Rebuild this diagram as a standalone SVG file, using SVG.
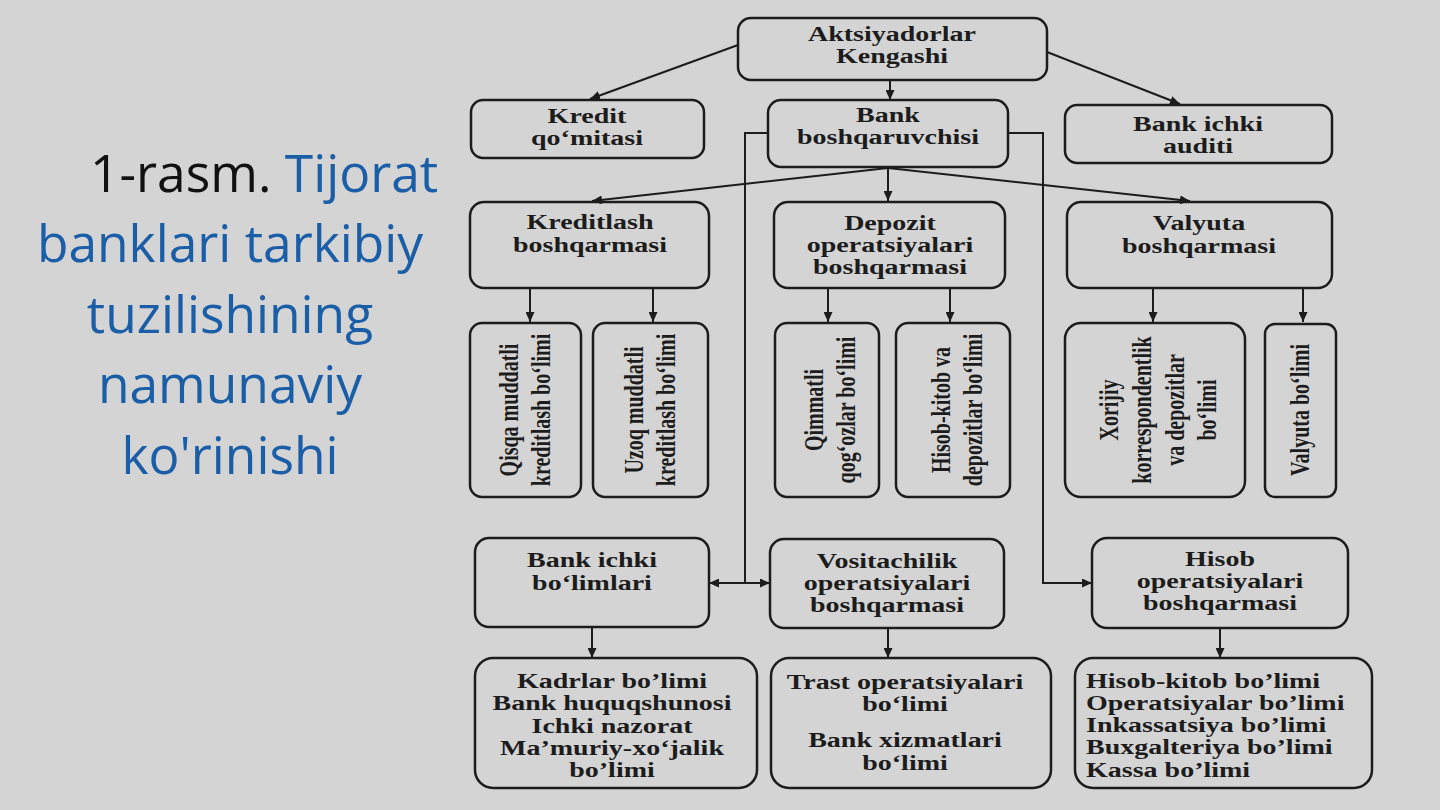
<svg xmlns="http://www.w3.org/2000/svg" width="1440" height="810" viewBox="0 0 1440 810">
<style>
.box{fill:none;stroke:#1c1c1c;stroke-width:2.5}
.c{fill:none;stroke:#1c1c1c;stroke-width:2}
.t{font-family:"Liberation Serif","Times New Roman",serif;font-weight:bold;font-size:20px;fill:#1c1c1c;text-anchor:middle}
.ts{font-family:"Liberation Serif","Times New Roman",serif;font-weight:bold;font-size:20px;fill:#1c1c1c;text-anchor:start}
.v{font-family:"Liberation Serif","Times New Roman",serif;font-weight:bold;font-size:20px;fill:#1c1c1c;text-anchor:middle}
.title{font-family:"Open Sans","Noto Sans",sans-serif;font-size:51.5px;fill:#1b5ea8}
</style>
<defs>
<marker id="ah" markerUnits="userSpaceOnUse" markerWidth="10" markerHeight="9" refX="10" refY="4.5" orient="auto">
<path d="M0,0 L10,4.5 L0,9 z" fill="#1c1c1c"/>
</marker>
</defs>
<rect x="0" y="0" width="1440" height="810" fill="#d4d4d4"/>

<g id="title">
<text class="title" x="90" y="192"><tspan fill="#111111">1-rasm. </tspan>Tijorat</text>
<text class="title" text-anchor="middle" x="230" y="262">banklari tarkibiy</text>
<text class="title" text-anchor="middle" x="230" y="333">tuzilishining</text>
<text class="title" text-anchor="middle" x="230" y="403">namunaviy</text>
<text class="title" text-anchor="middle" x="230" y="474">ko'rinishi</text>
</g>

<g id="connectors">
<line class="c" x1="738" y1="45" x2="590" y2="99" marker-end="url(#ah)"/>
<line class="c" x1="890" y1="80" x2="890" y2="100" marker-end="url(#ah)"/>
<line class="c" x1="1047" y1="52" x2="1180" y2="104" marker-end="url(#ah)"/>
<line class="c" x1="888" y1="168" x2="592" y2="201" marker-end="url(#ah)"/>
<line class="c" x1="888" y1="168" x2="888" y2="201" marker-end="url(#ah)"/>
<line class="c" x1="888" y1="168" x2="1190" y2="201" marker-end="url(#ah)"/>
<line class="c" x1="530" y1="289" x2="530" y2="322" marker-end="url(#ah)"/>
<line class="c" x1="653" y1="289" x2="653" y2="322" marker-end="url(#ah)"/>
<line class="c" x1="828" y1="289" x2="828" y2="322" marker-end="url(#ah)"/>
<line class="c" x1="950" y1="289" x2="950" y2="322" marker-end="url(#ah)"/>
<line class="c" x1="1153" y1="289" x2="1153" y2="322" marker-end="url(#ah)"/>
<line class="c" x1="1303" y1="289" x2="1303" y2="322" marker-end="url(#ah)"/>
<polyline class="c" points="768,133 745,133 745,583"/>
<line class="c" x1="745" y1="583" x2="709" y2="583" marker-end="url(#ah)"/>
<line class="c" x1="745" y1="583" x2="770" y2="583" marker-end="url(#ah)"/>
<polyline class="c" points="1008,133 1043,133 1043,583 1092,583" marker-end="url(#ah)"/>
<line class="c" x1="592" y1="627" x2="592" y2="658" marker-end="url(#ah)"/>
<line class="c" x1="888" y1="628" x2="888" y2="658" marker-end="url(#ah)"/>
<line class="c" x1="1220" y1="628" x2="1220" y2="658" marker-end="url(#ah)"/>
</g>

<g id="aktsiyadorlar">
<rect class="box" x="738" y="18" width="309" height="62" rx="13"/>
<text class="t" transform="translate(892,0) scale(1.4,1)"><tspan x="0" y="41">Aktsiyadorlar</tspan><tspan x="0" y="63">Kengashi</tspan></text>
</g>
<g id="kredit-qomitasi">
<rect class="box" x="471" y="100" width="233" height="58" rx="12"/>
<text class="t" transform="translate(587,0) scale(1.4,1)"><tspan x="0" y="123">Kredit</tspan><tspan x="0" y="145">qo‘mitasi</tspan></text>
</g>
<g id="bank-boshqaruvchisi">
<rect class="box" x="768" y="100" width="240" height="67" rx="13"/>
<text class="t" transform="translate(888,0) scale(1.4,1)"><tspan x="0" y="122">Bank</tspan><tspan x="0" y="144">boshqaruvchisi</tspan></text>
</g>
<g id="bank-ichki-auditi">
<rect class="box" x="1065" y="105" width="267" height="58" rx="12"/>
<text class="t" transform="translate(1198,0) scale(1.4,1)"><tspan x="0" y="131">Bank ichki</tspan><tspan x="0" y="153">auditi</tspan></text>
</g>

<g id="kreditlash-boshqarmasi">
<rect class="box" x="470" y="202" width="239" height="86" rx="14"/>
<text class="t" transform="translate(590,0) scale(1.4,1)"><tspan x="0" y="229">Kreditlash</tspan><tspan x="0" y="252">boshqarmasi</tspan></text>
</g>
<g id="depozit-boshqarmasi">
<rect class="box" x="774" y="202" width="231" height="86" rx="14"/>
<text class="t" transform="translate(890,0) scale(1.4,1)"><tspan x="0" y="230">Depozit</tspan><tspan x="0" y="252">operatsiyalari</tspan><tspan x="0" y="274">boshqarmasi</tspan></text>
</g>
<g id="valyuta-boshqarmasi">
<rect class="box" x="1067" y="202" width="265" height="86" rx="14"/>
<text class="t" transform="translate(1199,0) scale(1.4,1)"><tspan x="0" y="230">Valyuta</tspan><tspan x="0" y="253">boshqarmasi</tspan></text>
</g>

<g id="qisqa-muddatli">
<rect class="box" x="470" y="323" width="111" height="174" rx="12"/>
<text class="v" transform="translate(524,410) rotate(-90) scale(1,1.4)"><tspan x="0" y="-4.5">Qisqa muddatli</tspan><tspan x="0" y="18.5">kreditlash bo‘limi</tspan></text>
</g>
<g id="uzoq-muddatli">
<rect class="box" x="593" y="323" width="115" height="174" rx="12"/>
<text class="v" transform="translate(649,410) rotate(-90) scale(1,1.4)"><tspan x="0" y="-4.5">Uzoq muddatli</tspan><tspan x="0" y="18.5">kreditlash bo‘limi</tspan></text>
</g>
<g id="qimmatli-qogozlar">
<rect class="box" x="775" y="323" width="104" height="174" rx="12"/>
<text class="v" transform="translate(829,410) rotate(-90) scale(1,1.4)"><tspan x="0" y="-4.5">Qimmatli</tspan><tspan x="0" y="18.5">qog‘ozlar bo‘limi</tspan></text>
</g>
<g id="hisob-kitob-depozitlar">
<rect class="box" x="896" y="323" width="114" height="174" rx="12"/>
<text class="v" transform="translate(956,410) rotate(-90) scale(1,1.4)"><tspan x="0" y="-4.5">Hisob-kitob va</tspan><tspan x="0" y="18.5">depozitlar bo‘limi</tspan></text>
</g>
<g id="xorijiy-korrespondentlik">
<rect class="box" x="1065" y="323" width="180" height="174" rx="16"/>
<text class="v" transform="translate(1157,410) rotate(-90) scale(1,1.4)"><tspan x="0" y="-28">Xorijiy</tspan><tspan x="0" y="-4.5">korrespondentlik</tspan><tspan x="0" y="19">va depozitlar</tspan><tspan x="0" y="42.5">bo‘limi</tspan></text>
</g>
<g id="valyuta-bolimi">
<rect class="box" x="1265" y="324" width="71" height="173" rx="10"/>
<text class="v" transform="translate(1299,410) rotate(-90) scale(1,1.4)"><tspan x="0" y="7">Valyuta bo‘limi</tspan></text>
</g>

<g id="bank-ichki-bolimlari">
<rect class="box" x="475" y="538" width="234" height="89" rx="14"/>
<text class="t" transform="translate(592,0) scale(1.4,1)"><tspan x="0" y="567">Bank ichki</tspan><tspan x="0" y="590">bo‘limlari</tspan></text>
</g>
<g id="vositachilik">
<rect class="box" x="770" y="539" width="234" height="89" rx="14"/>
<text class="t" transform="translate(887,0) scale(1.4,1)"><tspan x="0" y="568">Vositachilik</tspan><tspan x="0" y="590">operatsiyalari</tspan><tspan x="0" y="612">boshqarmasi</tspan></text>
</g>
<g id="hisob-operatsiyalari">
<rect class="box" x="1092" y="538" width="256" height="90" rx="15"/>
<text class="t" transform="translate(1220,0) scale(1.4,1)"><tspan x="0" y="566">Hisob</tspan><tspan x="0" y="588">operatsiyalari</tspan><tspan x="0" y="610">boshqarmasi</tspan></text>
</g>

<g id="kadrlar">
<rect class="box" x="475" y="658" width="282" height="130" rx="18"/>
<text class="t" transform="translate(612,0) scale(1.4,1)"><tspan x="0" y="688">Kadrlar bo’limi</tspan><tspan x="0" y="710">Bank huquqshunosi</tspan><tspan x="0" y="733">Ichki nazorat</tspan><tspan x="0" y="755">Ma’muriy-xo‘jalik</tspan><tspan x="0" y="777">bo’limi</tspan></text>
</g>
<g id="trast">
<rect class="box" x="771" y="658" width="280" height="130" rx="18"/>
<text class="t" transform="translate(905,0) scale(1.4,1)"><tspan x="0" y="689">Trast operatsiyalari</tspan><tspan x="0" y="711">bo‘limi</tspan><tspan x="0" y="747">Bank xizmatlari</tspan><tspan x="0" y="770">bo‘limi</tspan></text>
</g>
<g id="hisob-bolimlari">
<rect class="box" x="1075" y="658" width="297" height="130" rx="18"/>
<text class="ts" transform="translate(1086,0) scale(1.4,1)"><tspan x="0" y="688">Hisob-kitob bo’limi</tspan><tspan x="0" y="710">Operatsiyalar bo’limi</tspan><tspan x="0" y="732">Inkassatsiya bo’limi</tspan><tspan x="0" y="754">Buxgalteriya bo’limi</tspan><tspan x="0" y="777">Kassa bo’limi</tspan></text>
</g>
</svg>
